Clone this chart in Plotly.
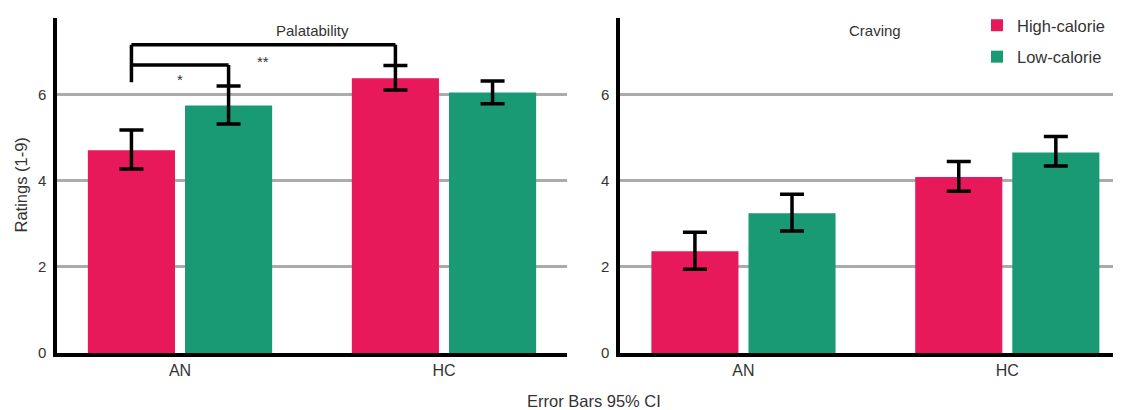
import plotly.graph_objects as go

groups = ["AN", "HC"]
series = ["High-calorie", "Low-calorie"]
colors = ["#E8195A", "#1A9A74"]

# Palatability (means, CI upper, CI lower)
pal_high = [4.70, 6.37]
pal_high_up = [5.17, 6.67]
pal_high_lo = [4.27, 6.10]
pal_low = [5.74, 6.04]
pal_low_up = [6.19, 6.31]
pal_low_lo = [5.31, 5.78]

# Craving
crv_high = [2.36, 4.08]
crv_high_up = [2.80, 4.44]
crv_high_lo = [1.94, 3.75]
crv_low = [3.24, 4.65]
crv_low_up = [3.68, 5.02]
crv_low_lo = [2.83, 4.34]

yticks = [0, 2, 4, 6]
panel_titles = ["Palatability", "Craving"]

# significance brackets (Palatability): bracket top levels and left-leg bottom
sig_inner_top = 6.68
sig_outer_top = 7.15
sig_left_bottom = 6.28
sig_labels = ["*", "**"]

FONT = "Arial, Liberation Sans, sans-serif"
TXT = "#333333"

# page body has an 8px default margin; compensate so the figure lands on the page grid
O = 8
W, H = 1121 - O, 410 - O
ML, MR, MT = 57 - O, 0, 15 - O
MB = H - (353 - O)
PW = W - ML - MR
PH = H - MT - MB

xpos = list(range(len(groups)))
bargap = 0.264
bargroupgap = 0.103
slot = (1 - bargap) / 2
off = slot / 2

fig = go.Figure()

def add_bars(xa, ya, vals, up, lo, name, color, show):
    fig.add_trace(go.Bar(
        x=xpos, y=vals, name=name, marker=dict(color=color, line=dict(width=0)),
        xaxis=xa, yaxis=ya, showlegend=show, legendgroup=name,
        error_y=dict(type="data", symmetric=False,
                     array=[u - v for u, v in zip(up, vals)],
                     arrayminus=[v - l for v, l in zip(vals, lo)],
                     color="black", thickness=3.5, width=12),
    ))

add_bars("x", "y", pal_high, pal_high_up, pal_high_lo, series[0], colors[0], True)
add_bars("x", "y", pal_low, pal_low_up, pal_low_lo, series[1], colors[1], True)
add_bars("x2", "y2", crv_high, crv_high_up, crv_high_lo, series[0], colors[0], False)
add_bars("x2", "y2", crv_low, crv_low_up, crv_low_lo, series[1], colors[1], False)

yaxis_common = dict(
    range=[0, 7.77], tickvals=yticks, showgrid=True, gridcolor="#ABABAB", gridwidth=3,
    zeroline=False, showline=True, linecolor="black", linewidth=3.5, ticks="",
    tickfont=dict(size=15, color=TXT, family=FONT), fixedrange=True,
    ticklabelstandoff=4, automargin=False,
)
xaxis_common = dict(
    tickvals=xpos, ticktext=groups, showgrid=False, zeroline=False,
    showline=True, linecolor="black", linewidth=3.5, ticks="",
    tickfont=dict(size=16, color=TXT, family=FONT), automargin=False,
)

def px(xpage):
    return (xpage - O - ML) / PW

def py(ypage):
    return (H - MB - (ypage - O)) / PH

fig.update_layout(
    width=W, height=H,
    margin=dict(l=ML, r=MR, t=MT, b=MB),
    paper_bgcolor="white", plot_bgcolor="white",
    barmode="group", bargap=bargap, bargroupgap=bargroupgap,
    font=dict(family=FONT, size=15, color=TXT),
    xaxis=dict(domain=[0, px(567)], range=[-0.466, 1.466], anchor="y", **xaxis_common),
    xaxis2=dict(domain=[px(620), 1], range=[-0.468, 1.431], anchor="y2", **xaxis_common),
    yaxis=dict(domain=[0, 1], anchor="x", **yaxis_common),
    yaxis2=dict(domain=[0, 1], anchor="x2", **yaxis_common),
    legend=dict(x=px(977), y=1.03, xanchor="left", yanchor="top",
                font=dict(size=16.5, color=TXT), tracegroupgap=7,
                bgcolor="rgba(0,0,0,0)", itemwidth=30),
)

# panel titles
for i, t in enumerate(panel_titles):
    fig.add_annotation(x=0.5, y=7.47, xref="x" if i == 0 else "x2", yref="y" if i == 0 else "y2",
                       text=t, showarrow=False, font=dict(size=15, color=TXT))

# y-axis title
fig.add_annotation(x=px(20), y=0.5, xref="paper", yref="paper", text="Ratings (1-9)",
                   textangle=-90, showarrow=False, xanchor="center", yanchor="middle",
                   font=dict(size=16.5, color=TXT))

# footnote
fig.add_annotation(x=px(594), y=py(401), xref="paper", yref="paper",
                   text="Error Bars 95% CI", showarrow=False, xanchor="center", yanchor="middle",
                   font=dict(size=16.5, color=TXT))

# significance brackets
xl = xpos[0] - off          # AN high-calorie
xr_in = xpos[0] + off       # AN low-calorie
xr_out = xpos[1] - off      # HC high-calorie
line = dict(color="black", width=3.5)
fig.add_shape(type="line", x0=xl, x1=xl, y0=sig_left_bottom, y1=sig_outer_top, xref="x", yref="y", line=line)
fig.add_shape(type="line", x0=xl, x1=xr_out, y0=sig_outer_top, y1=sig_outer_top, xref="x", yref="y", line=line)
fig.add_shape(type="line", x0=xr_out, x1=xr_out, y0=sig_outer_top, y1=pal_high_up[1], xref="x", yref="y", line=line)
fig.add_shape(type="line", x0=xl, x1=xr_in, y0=sig_inner_top, y1=sig_inner_top, xref="x", yref="y", line=line)
fig.add_shape(type="line", x0=xr_in, x1=xr_in, y0=sig_inner_top, y1=pal_low_up[0], xref="x", yref="y", line=line)
fig.add_annotation(x=(xl + xr_in) / 2, y=6.35, xref="x", yref="y", text=sig_labels[0],
                   showarrow=False, font=dict(size=15, color=TXT))
fig.add_annotation(x=(xl + xr_out) / 2, y=6.77, xref="x", yref="y", text=sig_labels[1],
                   showarrow=False, font=dict(size=15, color=TXT))

fig.write_html("out.html")
